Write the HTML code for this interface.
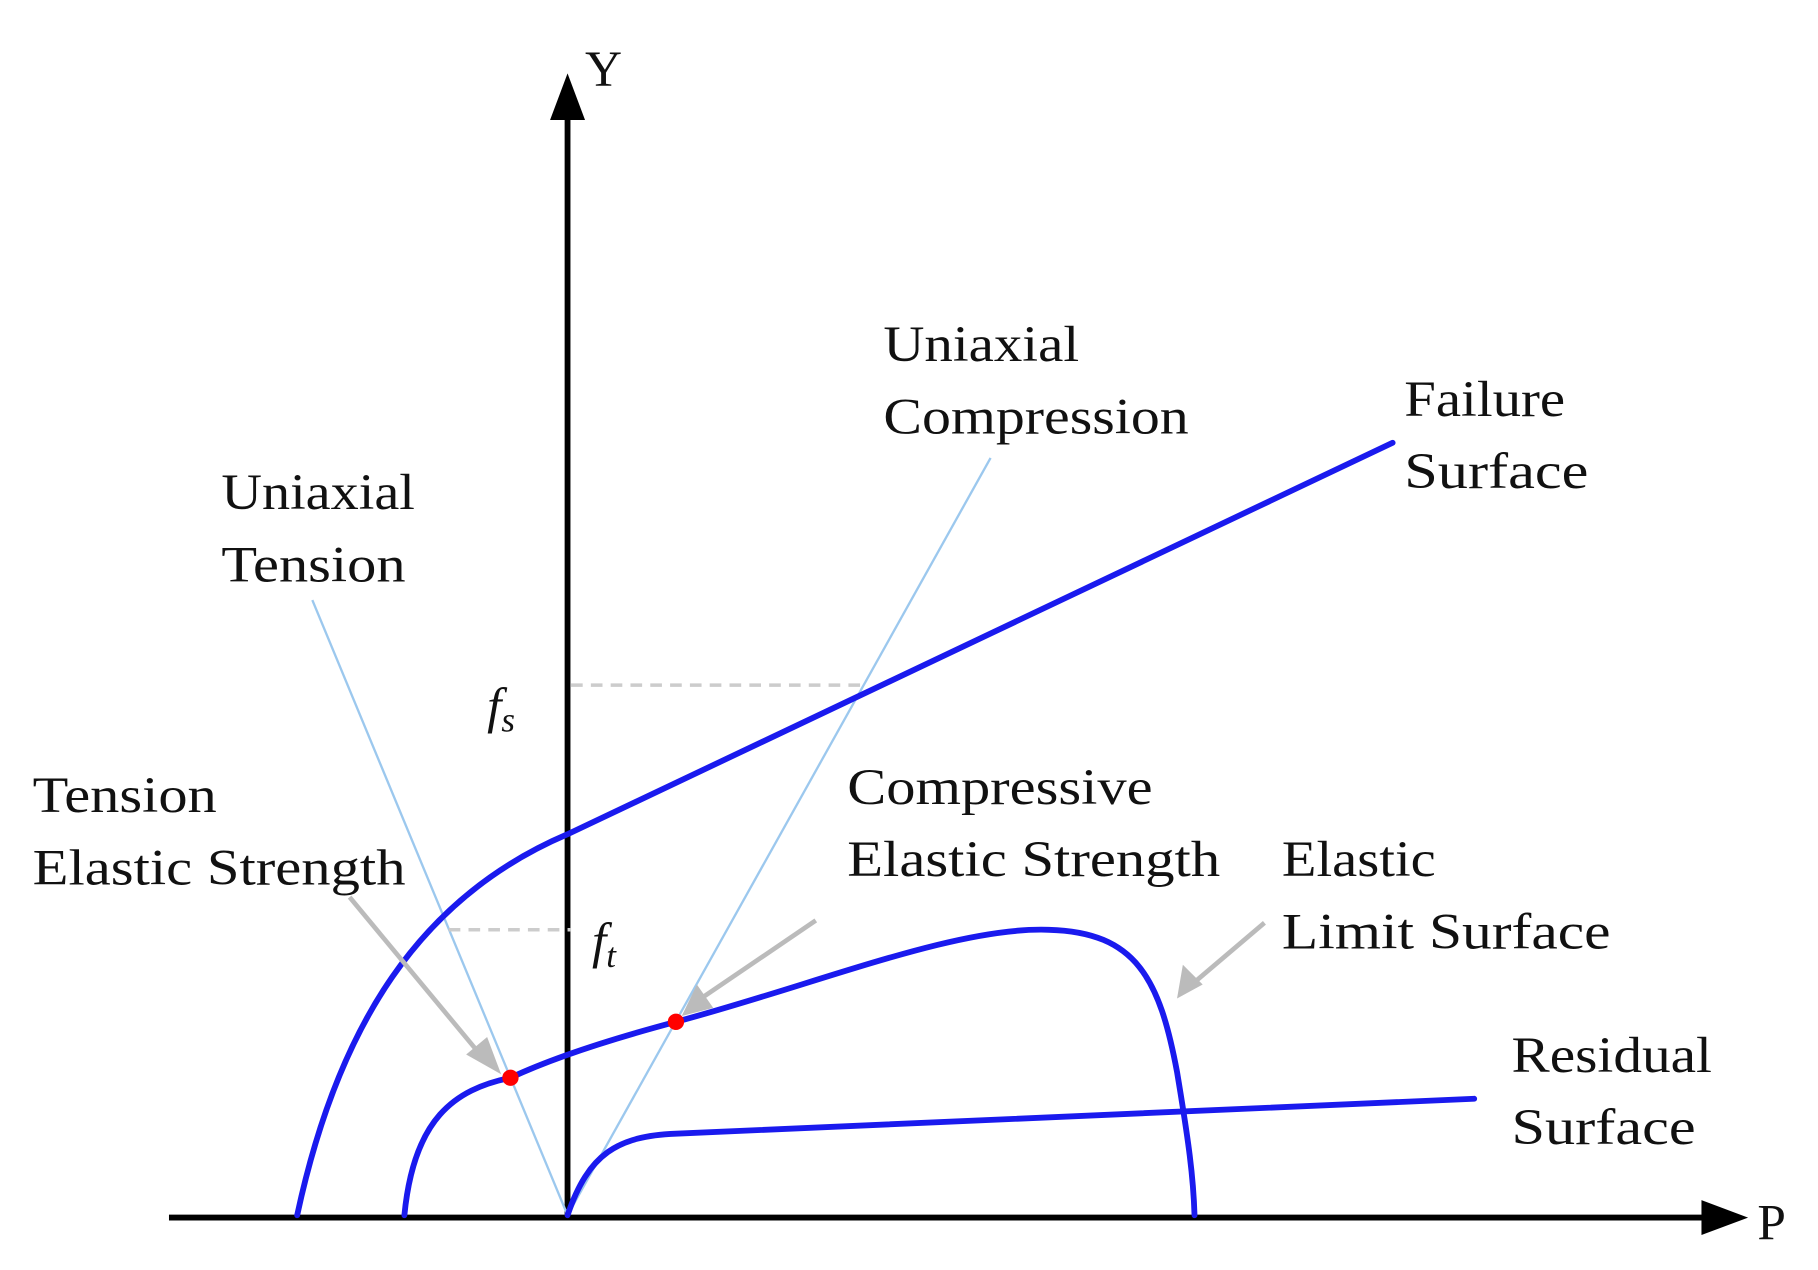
<!DOCTYPE html>
<html><head><meta charset="utf-8"><style>
html,body{margin:0;padding:0;background:#fff;}
svg{display:block;}
text{font-family:"Liberation Serif",serif;font-size:44px;fill:#111;}
</style></head><body>
<svg width="1818" height="1270" viewBox="0 0 1560 1090" preserveAspectRatio="none" xmlns="http://www.w3.org/2000/svg">
<!-- axes -->
<line x1="145" y1="1045" x2="1465" y2="1045" stroke="#000" stroke-width="5"/>
<path d="M1500,1045 L1460,1030 L1460,1060 z" fill="#000"/>
<line x1="487" y1="1045" x2="487" y2="100" stroke="#000" stroke-width="5"/>
<path d="M487,63 L472,103 L502,103 z" fill="#000"/>
<text x="502" y="74" font-size="56">Y</text>
<text x="1508" y="1064" font-size="56">P</text>
<!-- light blue lines -->
<line x1="268" y1="515" x2="487" y2="1043" stroke="#9cc8ee" stroke-width="2"/>
<line x1="850" y1="393" x2="487" y2="1043" stroke="#9cc8ee" stroke-width="2"/>
<!-- dashed -->
<line x1="490" y1="588" x2="740" y2="588" stroke="#ccc" stroke-width="3" stroke-dasharray="10,7"/>
<line x1="385" y1="798" x2="490" y2="798" stroke="#ccc" stroke-width="3" stroke-dasharray="10,7"/>
<!-- curves -->
<g fill="none" stroke="#1a1aee" stroke-width="5" stroke-linecap="round">
<path d="M255,1043 C290,880 360,770 487,716 L1195,380"/>
<path d="M347,1043 C355,960 390,935 438,925 C470,910 520,893 580,877 C700,845 820,795 900,798 C975,800 995,840 1010,920 C1020,980 1024,1010 1025,1043"/>
<path d="M487,1043 C505,990 530,975 580,973 L1265,943"/>
</g>
<!-- red dots -->
<circle cx="438" cy="925" r="7" fill="#f00"/>
<circle cx="580" cy="877" r="7" fill="#f00"/>
<!-- gray arrows -->
<g stroke="#bbb" stroke-width="4" fill="none">
<line x1="300" y1="770" x2="412" y2="905"/>
<line x1="700" y1="790" x2="600" y2="858"/>
<line x1="1085" y1="792" x2="1025" y2="843"/>
</g>
<path d="M430,922 L400,905 L418,890 z" fill="#bbb"/>
<path d="M585,872 L598,845 L612,865 z" fill="#bbb"/>
<path d="M1010,857 L1015,828 L1032,845 z" fill="#bbb"/>
<!-- labels -->
<text x="758" y="310" textLength="168" lengthAdjust="spacingAndGlyphs">Uniaxial</text>
<text x="758" y="372" textLength="262" lengthAdjust="spacingAndGlyphs">Compression</text>
<text x="1205" y="357" textLength="138" lengthAdjust="spacingAndGlyphs">Failure</text>
<text x="1205" y="419" textLength="158" lengthAdjust="spacingAndGlyphs">Surface</text>
<text x="190" y="437" textLength="166" lengthAdjust="spacingAndGlyphs">Uniaxial</text>
<text x="190" y="499" textLength="158" lengthAdjust="spacingAndGlyphs">Tension</text>
<text x="418" y="620" font-style="italic" font-size="50">f<tspan font-size="30" dy="8">s</tspan></text>
<text x="508" y="822" font-style="italic" font-size="50">f<tspan font-size="30" dy="8">t</tspan></text>
<text x="28" y="697" textLength="158" lengthAdjust="spacingAndGlyphs">Tension</text>
<text x="28" y="759" textLength="320" lengthAdjust="spacingAndGlyphs">Elastic Strength</text>
<text x="727" y="690" textLength="262" lengthAdjust="spacingAndGlyphs">Compressive</text>
<text x="727" y="752" textLength="320" lengthAdjust="spacingAndGlyphs">Elastic Strength</text>
<text x="1100" y="752" textLength="132" lengthAdjust="spacingAndGlyphs">Elastic</text>
<text x="1100" y="814" textLength="282" lengthAdjust="spacingAndGlyphs">Limit Surface</text>
<text x="1297" y="920" textLength="172" lengthAdjust="spacingAndGlyphs">Residual</text>
<text x="1297" y="982" textLength="158" lengthAdjust="spacingAndGlyphs">Surface</text>
</svg>
</body></html>
